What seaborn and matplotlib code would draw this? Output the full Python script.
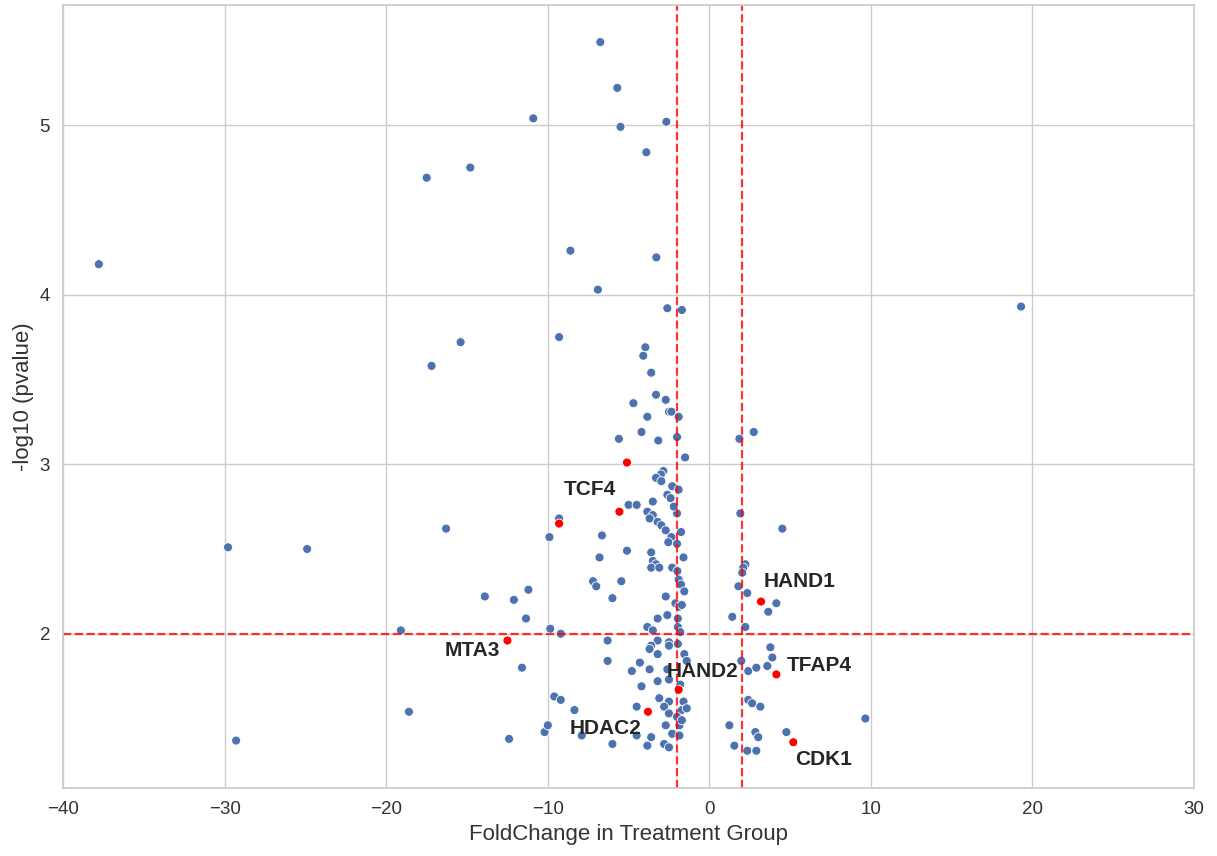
import numpy as np
import pandas as pd
import matplotlib
matplotlib.use("Agg")
import matplotlib.pyplot as plt
import seaborn as sns

sns.set_theme(style="whitegrid")
plt.rcParams['font.family'] = ['Liberation Sans', 'DejaVu Sans']

# fold change / -log10(p) of all genes
fold_change = [
    -37.8, -29.8, -24.9, -29.3, -17.5, -14.8, -10.9, -8.6, -15.4, -17.2,
    -9.3, -16.3, -9.9, -9.3, -13.9, -12.1, -11.2, -11.35, -19.1, -9.85,
    -9.2, -11.6, -18.6, -12.4, -9.6, -9.2, -8.35, -10.2, -10.0, -7.9,
    -6.75, -5.7, -5.5, -2.66, -3.9, -3.28, -6.9, -2.6, -1.7, -3.96,
    -4.09, -3.6, -3.3, -2.7, -4.7, -2.5, -2.35, -1.9, -3.84, -4.2,
    -5.6, -3.16, -2.0, -1.5, -2.85, -3.0, -3.3, -2.97, -2.3, -2.6,
    -2.4, -3.5, -5.0, -4.5, -3.84, -3.5, -2.0, -2.2, -3.7, -3.2,
    -2.97, -2.7, -2.35, -2.54, -2.0, -6.65, -5.1, -6.8, -3.6, -3.5,
    -3.3, -3.6, -3.1, -2.3, -1.98, -1.9, -1.75, -1.55, -7.2, -7.0,
    -5.45, -6.0, -2.7, -2.1, -1.86, -1.7, -2.6, -3.2, -1.95, -3.84,
    -3.5, -1.95, -1.8, -6.3, -3.2, -2.5, -3.6, -1.95, -3.7, -2.5,
    -1.55, -3.2, -6.3, -4.3, -4.8, -3.7, -2.6, -1.4, -3.2, -2.5,
    -4.2, -3.1, -2.5, -1.6, -4.5, -2.8, -1.7, -1.4, -2.5, -2.0,
    -2.7, -1.85, -1.7, -4.5, -3.6, -3.84, -2.8, -2.5, -6.0, -2.3,
    -1.85, -1.9, -1.75, -1.6, -1.8,
    2.75, 1.86, 1.92, 4.52, 2.23, 2.1, 2.04, 1.80, 2.35, 4.15,
    3.65, 1.42, 2.23, 3.78, 3.9, 3.59, 1.98, 2.41, 2.91, 2.41,
    2.65, 3.16, 1.24, 2.85, 3.03, 4.77, 1.55, 2.35, 2.91, 9.66,
    19.3,
]
neg_log_p = [
    4.18, 2.51, 2.50, 1.37, 4.69, 4.75, 5.04, 4.26, 3.72, 3.58,
    3.75, 2.62, 2.57, 2.68, 2.22, 2.20, 2.26, 2.09, 2.02, 2.03,
    2.00, 1.80, 1.54, 1.38, 1.63, 1.61, 1.55, 1.42, 1.46, 1.40,
    5.49, 5.22, 4.99, 5.02, 4.84, 4.22, 4.03, 3.92, 3.91, 3.69,
    3.64, 3.54, 3.41, 3.38, 3.36, 3.31, 3.31, 3.28, 3.28, 3.19,
    3.15, 3.14, 3.16, 3.04, 2.96, 2.94, 2.92, 2.90, 2.87, 2.82,
    2.80, 2.78, 2.76, 2.76, 2.72, 2.70, 2.71, 2.75, 2.68, 2.66,
    2.64, 2.61, 2.57, 2.54, 2.53, 2.58, 2.49, 2.45, 2.48, 2.43,
    2.41, 2.39, 2.39, 2.39, 2.37, 2.32, 2.29, 2.25, 2.31, 2.28,
    2.31, 2.21, 2.22, 2.18, 2.16, 2.17, 2.11, 2.09, 2.09, 2.04,
    2.02, 2.04, 2.01, 1.96, 1.96, 1.95, 1.93, 1.94, 1.91, 1.93,
    1.88, 1.88, 1.84, 1.83, 1.78, 1.79, 1.79, 1.84, 1.72, 1.73,
    1.69, 1.62, 1.60, 1.60, 1.57, 1.57, 1.55, 1.56, 1.53, 1.51,
    1.46, 1.46, 1.49, 1.40, 1.39, 1.34, 1.35, 1.33, 1.35, 1.41,
    1.40, 2.85, 2.60, 2.45, 1.70,
    3.19, 3.15, 2.71, 2.62, 2.41, 2.39, 2.36, 2.28, 2.24, 2.18,
    2.13, 2.10, 2.04, 1.92, 1.86, 1.81, 1.84, 1.78, 1.80, 1.61,
    1.59, 1.57, 1.46, 1.42, 1.39, 1.42, 1.34, 1.31, 1.31, 1.50,
    3.93,
]

# highlighted genes (red)
hl_fold_change = [-5.1, -5.57, -9.3, -12.5, -3.8, -1.9, 3.2, 4.15, 5.2]
hl_neg_log_p = [3.01, 2.72, 2.65, 1.96, 1.54, 1.67, 2.19, 1.76, 1.36]

# gene labels and where they were placed
label_names = ["TCF4", "MTA3", "HAND1", "HAND2", "TFAP4", "HDAC2", "CDK1"]
label_x = [-7.4, -14.7, 5.6, -0.4, 6.8, -6.4, 7.1]
label_y = [2.85, 1.90, 2.31, 1.78, 1.81, 1.44, 1.26]

fc_cut = 2
p_cut = 2

df = pd.DataFrame({
    'FoldChange': fold_change + hl_fold_change,
    'logp': neg_log_p + hl_neg_log_p,
    'highlight': [False] * len(fold_change) + [True] * len(hl_fold_change),
})

fig = plt.figure(figsize=(12.17, 8.56), dpi=100)
ax = fig.add_axes([0.052, 0.0794, 0.929, 0.915])

sns.scatterplot(data=df, x='FoldChange', y='logp', hue='highlight',
                palette={False: '#4c72b0', True: 'red'}, s=42,
                edgecolor='white', linewidth=0.6, legend=False, ax=ax)

# significance thresholds
ax.axvline(-fc_cut, color='red', ls='--', lw=1.6, alpha=0.8)
ax.axvline(fc_cut, color='red', ls='--', lw=1.6, alpha=0.8)
ax.axhline(p_cut, color='red', ls='--', lw=1.6, alpha=0.8)

for name, lx, ly in zip(label_names, label_x, label_y):
    ax.text(lx, ly, name, fontsize=15, fontweight='bold', color='#262626',
            ha='center', va='center')

ax.set_xlim(-40, 30)
ax.set_ylim(1.09, 5.71)
ax.set_xlabel('FoldChange in Treatment Group', fontsize=16, color='#333333')
ax.set_ylabel('-log10 (pvalue)', fontsize=16, color='#333333')
ax.tick_params(labelsize=13.5, colors='#333333')

fig.savefig('out.png', dpi=100)
